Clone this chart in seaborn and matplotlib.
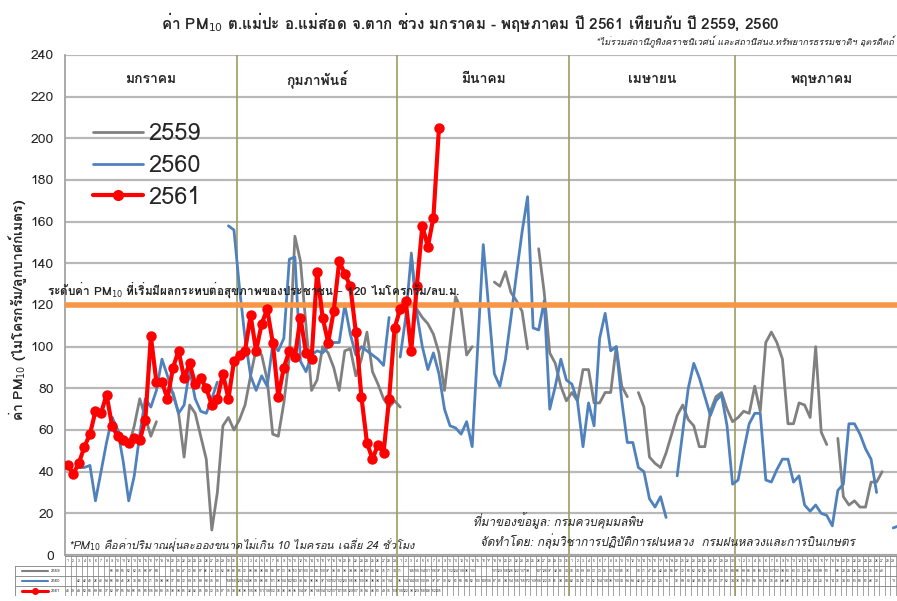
import matplotlib
matplotlib.use("Agg")
import numpy as np
import pandas as pd
import seaborn as sns
import matplotlib.pyplot as plt
from matplotlib import font_manager
from matplotlib.ft2font import FT2Font
from matplotlib.lines import Line2D

N = None

month_names = ["มกราคม", "กุมภาพันธ์", "มีนาคม", "เมษายน", "พฤษภาคม"]
month_days = [31, 29, 31, 30, 31]
years = ["2559", "2560", "2561"]
threshold = 120

# daily PM10, Jan 1 .. May 31 (None = no data)
pm_2559 = [N, N, N, N, N, N, N, N, 66, 60, 55, 52, 62, 75, 66, 57, 64, N, N, 78,
           68, 47, 72, 68, 57, 46, 12, 30, 62, 66, 60, 65, 72, 86, 99, 96, 84, 58, 57, 73,
           95, 153, 141, 110, 79, 84, 100, 97, 90, 79, 98, 99, 86, 94, 107, 88, 82, 75, 71, 74,
           71, N, 145, 118, 114, 111, 106, 97, 79, 102, 124, 118, 96, 100, N, N, N, 131, 129, 136,
           126, 122, 117, 99, N, 147, 126, 97, 92, 81, 74, 78, 74, 89, 89, 73, 73, 78, 78, 100,
           81, 76, N, 78, 71, 47, 44, 42, 49, 58, 67, 72, 65, 62, 52, 52, 69, 76, 78, 70,
           64, 66, 69, 68, 81, 69, 102, 107, 102, 94, 63, 63, 73, 72, 66, 100, 59, 53, N, 56,
           28, 24, 26, 23, 23, 35, 35, 40, N, N, N, N]

pm_2560 = [N, N, 42, 42, 43, 26, 40, 54, 66, 60, 45, 26, 38, 58, 75, 71, 79, 94, 86, 77,
           68, 72, 89, 75, 69, 68, 75, 83, N, 158, 156, 128, 104, 86, 79, 86, 81, 101, 98, 104,
           142, 143, 93, 88, 96, 98, 97, 100, 102, 102, 120, 106, 96, 100, 98, 96, 94, 91, 114, N,
           95, 114, 144, 116, 100, 89, 97, 87, 70, 62, 61, 58, 64, 52, 100, 149, 118, 87, 81, 94,
           114, 135, 155, 172, 109, 108, 122, 70, 81, 94, 84, 82, 74, 52, 73, 62, 104, 116, 98, 100,
           74, 54, 54, 42, 40, 27, 23, 28, 18, N, 38, 59, 80, 92, 85, 76, 67, 74, 77, 62,
           34, 36, 50, 63, 68, 68, 36, 35, 41, 46, 46, 35, 38, 24, 21, 24, 20, 19, 14, 31,
           34, 63, 63, 58, 51, 46, 30, N, N, 13, 14, 19]

pm_2561 = [43, 39, 44, 52, 58, 69, 68, 77, 62, 57, 55, 54, 56, 55, 65, 105, 83, 83, 75, 90,
           98, 85, 92, 82, 85, 80, 72, 75, 87, 75, 93, 96, 98, 115, 98, 111, 118, 102, 76, 90,
           98, 95, 114, 97, 94, 136, 114, 102, 117, 141, 135, 129, 107, 76, 54, 46, 53, 49, 75, 109,
           118, 122, 98, 129, 158, 148, 162, 205]

n_days = sum(month_days)
series = {"2559": pm_2559, "2560": pm_2560, "2561": pm_2561}


def thai_family():
    for f in font_manager.fontManager.ttflist:
        try:
            if ord("ก") in FT2Font(f.fname).get_charmap():
                return f.name
        except Exception:
            pass
    return None


rows = []
for year, vals in series.items():
    seg = 0
    for i, v in enumerate(vals):
        if v is None:
            seg += 1
            continue
        rows.append({"day": i + 0.5, "pm": v, "year": year, "seg": seg})
df = pd.DataFrame(rows)

sns.set_theme(style="white")
th = thai_family()
plt.rcParams["font.family"] = [th, "DejaVu Sans"] if th else ["DejaVu Sans"]
plt.rcParams["mathtext.fontset"] = "dejavusans"

W, H = 897, 601
fig = plt.figure(figsize=(W / 100, H / 100), dpi=100)
ax = fig.add_axes([65 / W, 1 - 555 / H, 1 - 65 / W, 500 / H])
xmax = (W - 65) / 5.54

colors = {"2559": "#808080", "2560": "#4f81bd", "2561": "#ff0000"}

sns.lineplot(data=df[df.year == "2559"], x="day", y="pm", units="seg", estimator=None,
             color=colors["2559"], lw=2, ax=ax, legend=False, zorder=3)
sns.lineplot(data=df[df.year == "2560"], x="day", y="pm", units="seg", estimator=None,
             color=colors["2560"], lw=2, ax=ax, legend=False, zorder=3)
ax.axhline(threshold, color="#f79646", lw=4, zorder=4)
sns.lineplot(data=df[df.year == "2561"], x="day", y="pm", units="seg", estimator=None,
             color=colors["2561"], lw=3, marker="o", markersize=7.5, markeredgewidth=0,
             ax=ax, legend=False, zorder=5)

ax.set_xlim(0, xmax)
ax.set_ylim(0, 240)
ax.set_yticks(np.arange(0, 241, 20))
ax.set_xticks([])
ax.set_xlabel("")
ax.set_ylabel("")
ax.tick_params(axis="y", labelsize=10, length=0, pad=8, labelcolor="#222222")
ax.yaxis.grid(True, color="#b8b8b8", lw=1.6)
ax.set_axisbelow(True)
for s in ["top", "right"]:
    ax.spines[s].set_visible(False)
ax.spines["left"].set_color("#a0a0a0")
ax.spines["bottom"].set_color("#a0a0a0")

bounds = np.cumsum(month_days)
starts = np.concatenate([[0], bounds[:-1]])
for b in bounds[:-1]:
    ax.axvline(b, color="#9c9c64", lw=1.2, zorder=1)
for name, s0, nd in zip(month_names, starts, month_days):
    ax.text(s0 + nd / 2, 228, name, ha="center", va="center", fontsize=10, fontweight="bold")

handles = [Line2D([], [], color=colors["2559"], lw=2),
           Line2D([], [], color=colors["2560"], lw=2),
           Line2D([], [], color=colors["2561"], lw=3, marker="o", markersize=7)]
ax.legend(handles, years, loc="upper left", bbox_to_anchor=(0.02, 0.89), frameon=False,
          fontsize=17, handlelength=2.1, handletextpad=0.2, labelspacing=0.38, borderpad=0)

fig.text(470 / W, 1 - 22 / H, "ค่า PM$_{10}$ ต.แม่ปะ อ.แม่สอด จ.ตาก ช่วง มกราคม - พฤษภาคม ปี 2561 เทียบกับ ปี 2559, 2560",
         ha="center", va="center", fontsize=11, fontweight="bold")
fig.text(596 / W, 1 - 42 / H, "*ไม่รวมสถานีภูพิงคราชนิเวศน์ และสถานีสนง.ทรัพยากรธรรมชาติฯ อุตรดิตถ์",
         ha="left", va="center", fontsize=6.6, style="italic")
fig.text(47 / W, 1 - 290 / H, "ระดับค่า PM$_{10}$ ที่เริ่มมีผลกระทบต่อสุขภาพของประชาชน – 120 ไมโครกรัม/ลบ.ม.",
         ha="left", va="center", fontsize=8.5, fontweight="bold")
fig.text(18 / W, 1 - 310 / H, "ค่า PM$_{10}$ (ไมโครกรัม/ลูกบาศก์เมตร)", rotation=90,
         ha="center", va="center", fontsize=10, fontweight="bold")
fig.text(68 / W, 1 - 545 / H, "*PM$_{10}$ คือค่าปริมาณฝุ่นละอองขนาดไม่เกิน 10 ไมครอน เฉลี่ย 24 ชั่วโมง",
         ha="left", va="center", fontsize=8, style="italic")
fig.text(473 / W, 1 - 521 / H, "ที่มาของข้อมูล: กรมควบคุมมลพิษ",
         ha="left", va="center", fontsize=8.5, style="italic")
fig.text(480 / W, 1 - 541 / H, "จัดทำโดย: กลุ่มวิชาการปฏิบัติการฝนหลวง  กรมฝนหลวงและการบินเกษตร",
         ha="left", va="center", fontsize=8.5, style="italic")

# data table under the chart
tab = fig.add_axes([65 / W, 1 - 596 / H, 1 - 65 / W, 40 / H], sharex=ax)
tab.set_ylim(4, 0)
tab.axis("off")
for r in range(5):
    tab.axhline(r, color="#808080", lw=0.6)
for c in range(n_days + 1):
    tab.axvline(c, color="#808080", lw=0.5)
for b in bounds[:-1]:
    tab.axvline(b, color="#9c9c64", lw=1.2)
day_nums = [d + 1 for nd in month_days for d in range(nd)]
for i, d in enumerate(day_nums):
    if i + 1 < xmax:
        tab.text(i + 0.5, 0.5, str(d), ha="center", va="center", fontsize=2.5, color="#333333")
for r, year in enumerate(years, start=1):
    for i, v in enumerate(series[year]):
        if v is not None and i + 1 < xmax:
            tab.text(i + 0.5, r + 0.5, str(v), ha="center", va="center", fontsize=2.5, color="#333333")

key = fig.add_axes([0, 1 - 596 / H, 65 / W, 40 / H])
key.set_xlim(0, 65)
key.set_ylim(4, 0)
key.axis("off")
for r in range(1, 5):
    key.plot([15, 65], [r, r], color="#808080", lw=0.6)
key.plot([15, 15], [1, 4], color="#808080", lw=0.6)
for r, year in enumerate(years, start=1):
    key.plot([22, 48], [r + 0.5, r + 0.5], color=colors[year], lw=1.5 if year != "2561" else 2.2)
    if year == "2561":
        key.plot([35], [r + 0.5], "o", color=colors[year], markersize=4)
    key.text(56, r + 0.5, year, ha="center", va="center", fontsize=3)

fig.savefig("out.png", dpi=100)
